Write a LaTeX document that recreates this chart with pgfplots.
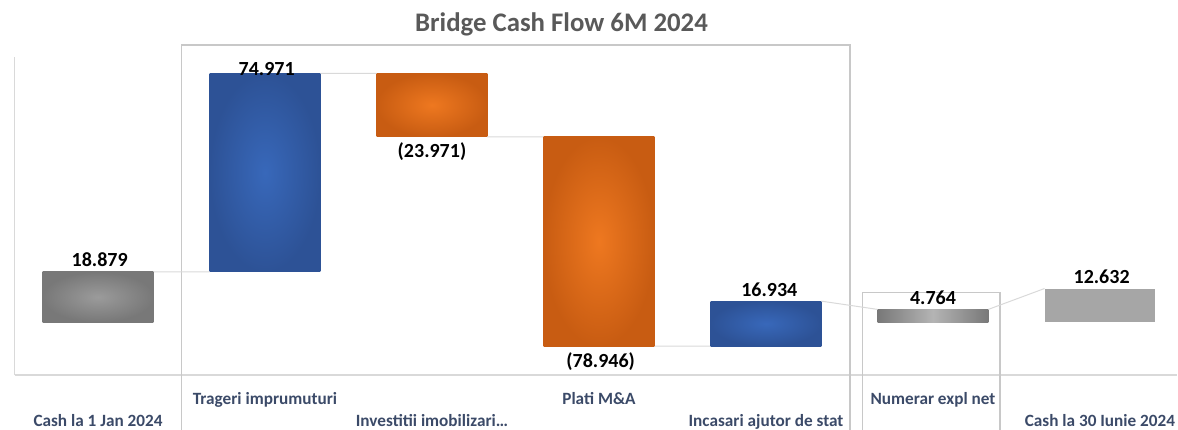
\documentclass[border=0pt]{standalone}
\usepackage{fontspec}
\setmainfont{Carlito}
\usepackage{pgfplots}
\pgfplotsset{compat=1.18}

\definecolor{lbl}{HTML}{3B4A68}
\definecolor{ttl}{HTML}{595959}
\definecolor{frame}{HTML}{D9D9D9}
\definecolor{boxln}{HTML}{C8C8C8}
\definecolor{conn}{HTML}{D9D9D9}
\definecolor{greyin}{HTML}{9B9B9B}
\definecolor{greyout}{HTML}{787878}
\definecolor{bluein}{HTML}{3868BA}
\definecolor{blueout}{HTML}{2D5296}
\definecolor{orin}{HTML}{EE7820}
\definecolor{orout}{HTML}{C85C12}
\definecolor{endgrey}{HTML}{A6A6A6}

\newcommand{\valfont}{\fontsize{20}{22}\selectfont\bfseries}
\newcommand{\catfont}{\fontsize{17.2}{20}\selectfont\bfseries}

\begin{document}
\begin{tikzpicture}
\path[use as bounding box] (0,0) rectangle (1178pt,429pt);
\begin{axis}[
    at={(14.5pt,54pt)}, anchor=south west,
    scale only axis, width=1162.3pt, height=318pt,
    xmin=-0.5, xmax=6.46, ymin=-20, ymax=100,
    axis x line*=bottom, axis y line*=left,
    axis line style={draw=frame, line width=1.5pt, -},
    ytick=\empty,
    xtick={0,2,4,6},
    xticklabels={Cash la 1 Jan 2024, Investitii imobilizari\ldots, Incasari ajutor de stat, Cash la 30 Iunie 2024},
    extra x ticks={1,3,5},
    extra x tick labels={Trageri imprumuturi, Plati M\&A, Numerar expl net},
    extra x tick style={xticklabel style={yshift=22pt}},
    major tick length=0pt,
    xticklabel style={font=\catfont, text=lbl, anchor=base, yshift=-51.5pt},
    clip=false,
]
% highlight boxes
\draw[boxln, line width=1.5pt] (axis cs:0.501,-45) |- (axis cs:4.503,104.5) -- (axis cs:4.503,-45);
\draw[boxln, line width=1.2pt] (axis cs:4.579,-45) |- (axis cs:5.401,11.2) -- (axis cs:5.401,-45);

% connectors
\addplot[conn, line width=1pt, unbounded coords=jump] coordinates {
    (0.332,18.879) (0.668,18.879) (1,nan)
    (1.332,93.850) (1.668,93.850) (2,nan)
    (2.332,69.879) (2.668,69.879) (3,nan)
    (3.332,-9.067) (3.668,-9.067) (4,nan)
    (4.332,7.867) (4.668,4.764) (5,nan)
    (5.332,4.764) (5.668,12.632)
};

% bars
\addplot[draw=none, inner color=greyin, outer color=greyout] coordinates {(-0.332,0) (0.332,0) (0.332,18.879) (-0.332,18.879)} -- cycle;
\addplot[draw=none, inner color=bluein, outer color=blueout] coordinates {(0.668,18.879) (1.332,18.879) (1.332,93.850) (0.668,93.850)} -- cycle;
\addplot[draw=none, inner color=orin, outer color=orout] coordinates {(1.668,69.879) (2.332,69.879) (2.332,93.850) (1.668,93.850)} -- cycle;
\addplot[draw=none, inner color=orin, outer color=orout] coordinates {(2.668,-9.067) (3.332,-9.067) (3.332,69.879) (2.668,69.879)} -- cycle;
\addplot[draw=none, inner color=bluein, outer color=blueout] coordinates {(3.668,-9.067) (4.332,-9.067) (4.332,7.867) (3.668,7.867)} -- cycle;
\addplot[draw=none, left color=greyout, right color=greyout, middle color=greyin!75!white] coordinates {(4.668,0) (5.332,0) (5.332,4.764) (4.668,4.764)} -- cycle;
\addplot[draw=none, fill=endgrey] coordinates {(5.668,0) (6.332,0) (6.332,12.632) (5.668,12.632)} -- cycle;

% value labels
\addplot[draw=none, nodes near coords, point meta=explicit symbolic,
    nodes near coords style={anchor=base, yshift=5pt, font=\valfont, text=black}]
    coordinates {(0.01,18.879)[18.879] (4.02,7.867)[16.934] (5,4.764)[4.764] (6.01,12.632)[12.632]};
\addplot[draw=none, nodes near coords, point meta=explicit symbolic,
    nodes near coords style={anchor=base, yshift=-2pt, font=\valfont, text=black}]
    coordinates {(1.01,93.850)[74.971]};
\addplot[draw=none, nodes near coords, point meta=explicit symbolic,
    nodes near coords style={anchor=base, yshift=-21pt, font=\valfont, text=black}]
    coordinates {(2,69.879)[{(23.971)}] (3.01,-9.067)[{(78.946)}]};
\end{axis}
\node[font=\fontsize{26.8}{30}\selectfont\bfseries, text=ttl, anchor=base] at (561.5pt,397pt) {Bridge Cash Flow 6M 2024};
\end{tikzpicture}
\end{document}
